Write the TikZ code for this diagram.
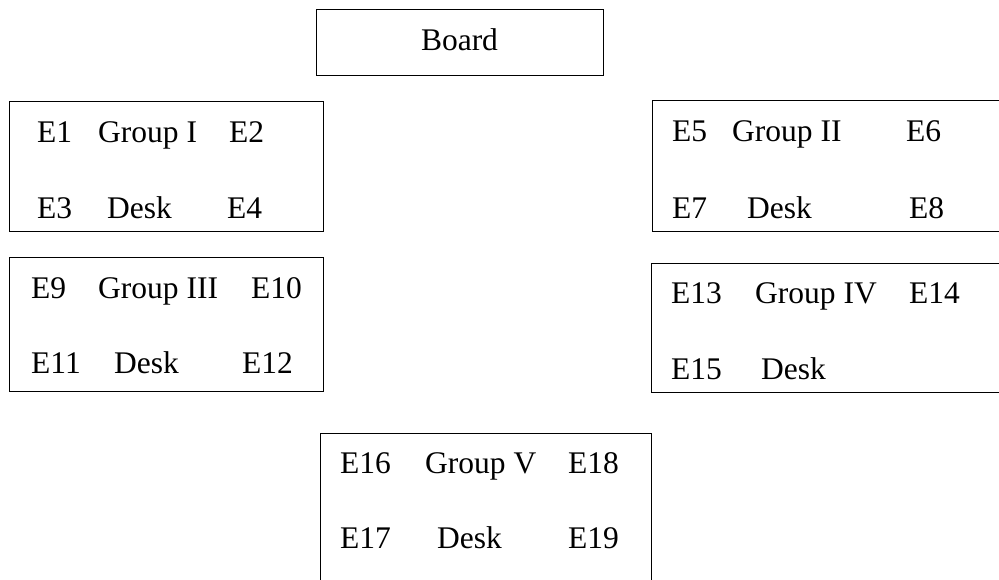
\documentclass[tikz,border=0pt]{standalone}
\usepackage{fontspec}
\setmainfont{Liberation Serif}
\begin{document}
\begin{tikzpicture}[x=1pt,y=-1pt,
  deskbox/.style={draw=black,line width=1.3pt,rectangle,anchor=north west,inner sep=0pt},
  lbl/.style={anchor=base west,inner sep=0pt,font=\fontsize{31.5}{36}\selectfont}]
\useasboundingbox (0,0) rectangle (999,579);
\clip (0,0) rectangle (999,579);

% board
\node[deskbox,minimum width=287pt,minimum height=66pt] (board) at (316,9) {};
\node[lbl,anchor=base] (boardtxt) at (459.5,50) {Board};

% group I
\node[deskbox,minimum width=314pt,minimum height=130pt] (g1) at (9,101) {};
\node[lbl] (e1) at (37,142) {E1};
\node[lbl] (g1t) at (98,142) {Group I};
\node[lbl] (e2) at (229,142) {E2};
\node[lbl] (e3) at (37,218) {E3};
\node[lbl] (d1) at (107,218) {Desk};
\node[lbl] (e4) at (227,218) {E4};

% group II (runs past the right edge)
\node[deskbox,minimum width=400pt,minimum height=131pt] (g2) at (652,100) {};
\node[lbl] (e5) at (672,141) {E5};
\node[lbl] (g2t) at (732,141) {Group II};
\node[lbl] (e6) at (906,141) {E6};
\node[lbl] (e7) at (672,218) {E7};
\node[lbl] (d2) at (747,218) {Desk};
\node[lbl] (e8) at (909,218) {E8};

% group III
\node[deskbox,minimum width=314pt,minimum height=134pt] (g3) at (9,257) {};
\node[lbl] (e9) at (31,298) {E9};
\node[lbl] (g3t) at (98,298) {Group III};
\node[lbl] (e10) at (251,298) {E10};
\node[lbl] (e11) at (31,373) {E11};
\node[lbl] (d3) at (114,373) {Desk};
\node[lbl] (e12) at (242,373) {E12};

% group IV (runs past the right edge)
\node[deskbox,minimum width=400pt,minimum height=129pt] (g4) at (651,263) {};
\node[lbl] (e13) at (671,303) {E13};
\node[lbl] (g4t) at (755,303) {Group IV};
\node[lbl] (e14) at (909,303) {E14};
\node[lbl] (e15) at (671,379) {E15};
\node[lbl] (d4) at (761,379) {Desk};

% group V (runs past the bottom edge)
\node[deskbox,minimum width=331pt,minimum height=200pt] (g5) at (320,433) {};
\node[lbl] (e16) at (340,473) {E16};
\node[lbl] (g5t) at (425,473) {Group V};
\node[lbl] (e18) at (568,473) {E18};
\node[lbl] (e17) at (340,548) {E17};
\node[lbl] (d5) at (437,548) {Desk};
\node[lbl] (e19) at (568,548) {E19};
\end{tikzpicture}
\end{document}
